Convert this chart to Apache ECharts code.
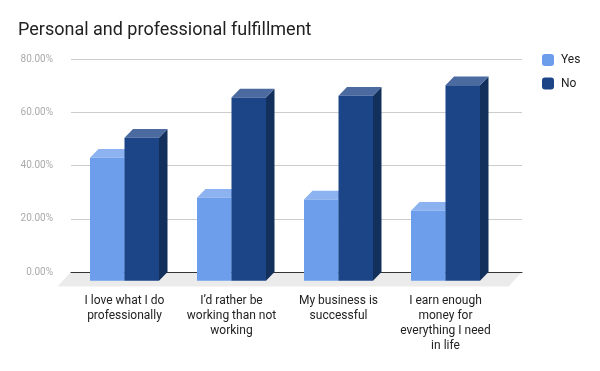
<!DOCTYPE html>
<html><head><meta charset="utf-8">
<script src="https://cdn.jsdelivr.net/npm/echarts@6/dist/echarts.min.js"></script>
<style>html,body{margin:0;padding:0;background:#fff}#c{width:600px;height:371px}</style>
</head><body><div id="c"></div>
<script>
const categories = ["I love what I do\nprofessionally", "I’d rather be\nworking than not\nworking", "My business is\nsuccessful", "I earn enough\nmoney for\neverything I need\nin life"];
const yesValues = [46.2, 31.2, 30.5, 26.3];
const noValues = [53.7, 68.8, 69.5, 73.4];
const seriesNames = ["Yes", "No"];
const yTicks = [0, 20, 40, 60, 80];

const DX = 8.5, DY = 8.7;
const colors = {
  Yes: {front: '#6d9eeb', top: '#8cb2f0', side: '#4f7fc9'},
  No: {front: '#1c4587', top: '#4a6aa0', side: '#132f5c'}
};

function makeRender(name, side) {
  return function (params, api) {
    const cat = api.value(0), val = api.value(1);
    const p = api.coord([cat, val]);
    const z = api.coord([cat, 0]);
    const band = api.size([1, 0])[0];
    const w = band * 0.3224;
    const left = side < 0 ? p[0] - w : p[0];
    const right = left + w;
    const top = p[1], bottom = z[1];
    const c = colors[name];
    return {
      type: 'group',
      children: [
        {type: 'polygon', shape: {points: [[right, top], [right + DX, top - DY], [right + DX, bottom - DY], [right, bottom]]}, style: {fill: c.side}},
        {type: 'polygon', shape: {points: [[left, top], [left + DX, top - DY], [right + DX, top - DY], [right, top]]}, style: {fill: c.top}},
        {type: 'rect', shape: {x: left, y: top, width: w, height: bottom - top}, style: {fill: c.front}}
      ]
    };
  };
}

const chart = echarts.init(document.getElementById('c'), null, {renderer: 'canvas'});
const font = 'Roboto, "Noto Sans", sans-serif';
chart.setOption({
  animation: false,
  textStyle: {fontFamily: font},
  title: {text: 'Personal and professional fulfillment', left: 18, top: 21, padding: 0,
    textStyle: {fontSize: 18, fontWeight: 'normal', color: '#212121', fontFamily: font}},
  legend: {orient: 'vertical', left: 542, top: 54, padding: 0, itemWidth: 12, itemHeight: 12, itemGap: 11.5,
    icon: 'roundRect', data: seriesNames,
    textStyle: {fontSize: 12, color: '#222', fontFamily: font, padding: [0, 0, 0, 2]}},
  grid: [
    {left: 71, right: 78, top: 59, bottom: 99},
    {left: 71, width: 428, top: 67.7, bottom: 90.3}
  ],
  graphic: [
    {type: 'polygon', z: -1, shape: {points: [[71, 272], [522, 272], [508.5, 286.5], [57.5, 286.5]]}, style: {fill: '#ebebeb'}}
  ],
  xAxis: [
    {gridIndex: 0, type: 'category', data: categories, axisLine: {show: true, lineStyle: {color: '#333', width: 1}},
      axisTick: {show: false}, axisLabel: {show: false}, z: 0},
    {gridIndex: 1, type: 'category', data: categories, axisLine: {show: false}, axisTick: {show: false},
      axisLabel: {interval: 0, margin: 12.5, fontSize: 12, lineHeight: 15, color: '#222', fontFamily: font}}
  ],
  yAxis: [
    {gridIndex: 0, type: 'value', min: 0, max: 80, interval: 20,
      axisLine: {show: false}, axisTick: {show: false},
      splitLine: {lineStyle: {color: '#cccccc', width: 1}},
      axisLabel: {margin: 18, fontSize: 10, color: '#aaaaaa', fontFamily: font, formatter: v => v.toFixed(2) + '%'}},
    {gridIndex: 1, type: 'value', min: 0, max: 80, interval: 20, show: false, splitLine: {show: false}}
  ],
  series: [
    {name: 'Yes', type: 'custom', xAxisIndex: 1, yAxisIndex: 1, itemStyle: {color: colors.Yes.front},
      renderItem: makeRender('Yes', -1), data: yesValues.map((v, i) => [i, v]), z: 2},
    {name: 'No', type: 'custom', xAxisIndex: 1, yAxisIndex: 1, itemStyle: {color: colors.No.front},
      renderItem: makeRender('No', 1), data: noValues.map((v, i) => [i, v]), z: 3}
  ]
});
</script>
</body></html>
